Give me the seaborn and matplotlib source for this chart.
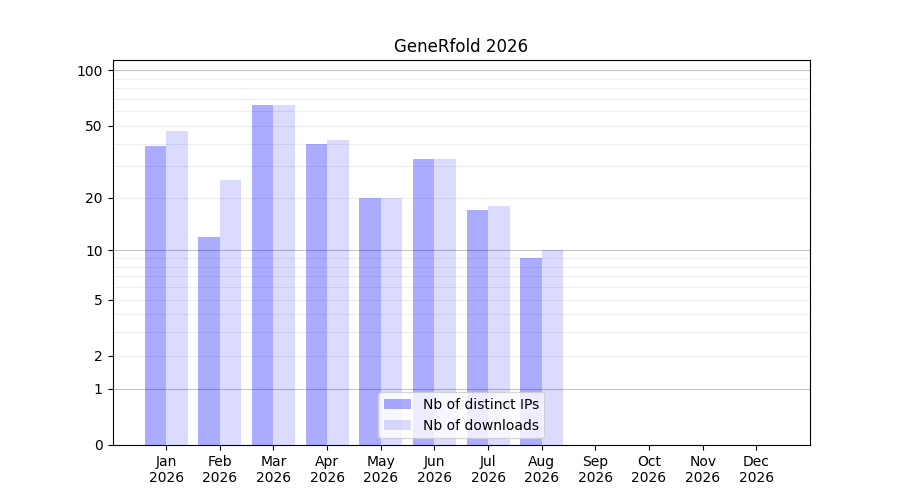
import numpy as np
import pandas as pd
import matplotlib
matplotlib.use("Agg")
import matplotlib.pyplot as plt
import seaborn as sns

# Monthly stats for 2026
months = ["Jan", "Feb", "Mar", "Apr", "May", "Jun", "Jul", "Aug", "Sep", "Oct", "Nov", "Dec"]
year = "2026"
distinct_ips = [39, 12, 65, 40, 20, 33, 17, 9, 0, 0, 0, 0]
downloads = [47, 25, 65, 42, 20, 33, 18, 10, 0, 0, 0, 0]
series_names = ["Nb of distinct IPs", "Nb of downloads"]

# y ticks and helper lines
y_ticks = [0, 1, 2, 5, 10, 20, 50, 100]
decade_lines = [1, 10, 100]
fine_lines = [2, 3, 4, 5, 6, 7, 8, 9, 20, 30, 40, 50, 60, 70, 80, 90]

# Long format table for seaborn
df = pd.DataFrame({
    "month": months * 2,
    "value": distinct_ips + downloads,
    "series": [series_names[0]] * len(months) + [series_names[1]] * len(months),
})

fig, ax = plt.subplots(figsize=(9, 5), dpi=100)

sns.barplot(data=df, x="month", y="value", hue="series", order=months,
            hue_order=series_names, palette=["blue", "blue"], saturation=1,
            errorbar=None, linewidth=0, legend=False, ax=ax)

# different transparency per series
for cont, a in zip(ax.containers, [0.33, 0.14]):
    for bar in cont:
        bar.set_alpha(a)

# log(1+x) scale so zero stays visible
ax.set_yscale("function", functions=(lambda v: np.log10(1 + np.clip(v, 0, None)),
                                     lambda t: 10 ** t - 1))
ax.set_ylim(0, 113.7)
ax.set_yticks(y_ticks)
ax.set_yticklabels([str(t) for t in y_ticks])
ax.yaxis.set_minor_locator(matplotlib.ticker.NullLocator())

for y in fine_lines:
    ax.axhline(y, color="#eeeeee", linewidth=0.8, zorder=0)
for y in decade_lines:
    ax.axhline(y, color="#c4c4c4", linewidth=0.8, zorder=0)

ax.set_xlim(-1, 12)
ax.set_xticks(range(len(months)))
ax.set_xticklabels([f"{m}\n{year}" for m in months])
ax.set_xlabel("")
ax.set_ylabel("")
ax.set_title("GeneRfold 2026")

ax.legend(ax.containers, series_names, loc="lower center")

plt.savefig("out.png")
